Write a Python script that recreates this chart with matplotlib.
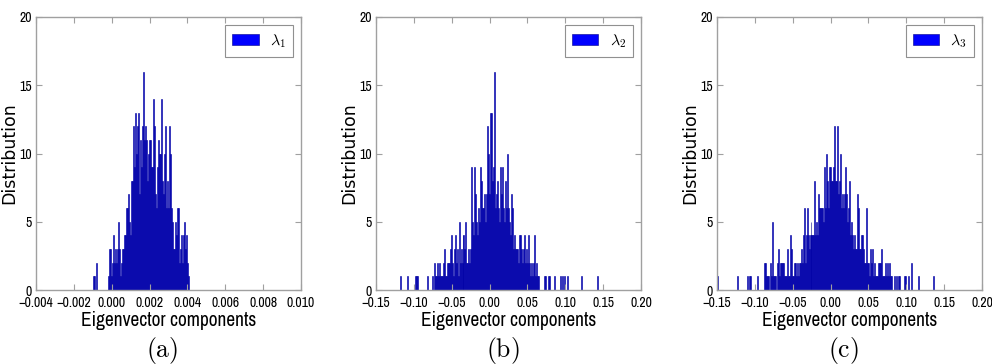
import matplotlib
matplotlib.use('Agg')
import matplotlib.pyplot as plt
import matplotlib.font_manager as fm
import numpy as np

plt.rcParams['mathtext.fontset'] = 'cm'
plt.rcParams['font.family'] = ['DejaVu Sans']
plt.rcParams['axes.unicode_minus'] = True

# ---------------- data ----------------
a_counts = [1, 1, 0, 2, 0, 0, 0, 0, 0, 0, 0, 0, 0, 0, 0, 0,
            1, 3, 3, 1, 2, 4, 2, 3, 2, 3, 5, 3, 1, 2, 3, 3, 4, 4, 6, 6,
            7, 5, 4, 8, 8, 12, 9, 13, 10, 12, 13, 7, 11, 9, 12, 16, 11, 12, 11, 8,
            10, 11, 11, 9, 9, 14, 12, 7, 6, 9, 11, 10, 10, 14, 8, 7, 10, 12, 6, 8,
            6, 12, 10, 6, 5, 3, 3, 5, 4, 6, 6, 2, 3, 4, 2, 4, 5, 3, 4, 2, 1]
a_range = (-0.001014, 0.004098)

b_counts = [1, 0, 0, 0, 0, 0, 0, 1, 0, 0, 0, 0, 0, 0, 0, 1, 1, 1, 0, 0,
            0, 0, 0, 0, 0, 0, 0, 1, 0, 0, 0, 0, 1, 0, 2, 1, 1, 2, 1, 2,
            1, 1, 1, 2, 3, 1, 1, 2, 2, 2, 3, 4, 2, 1, 3, 4, 2, 3, 1, 5,
            2, 3, 2, 4, 4, 3, 5, 2, 2, 3, 2, 3, 9, 5, 4, 9, 7, 5, 4, 6,
            5, 9, 8, 6, 6, 7, 5, 7, 12, 10, 7, 13, 13, 8, 9, 16, 6, 7, 8, 6,
            5, 9, 7, 9, 6, 5, 8, 6, 10, 6, 5, 4, 7, 6, 3, 4, 3, 3, 3, 2,
            4, 4, 3, 2, 3, 4, 2, 3, 2, 4, 2, 1, 2, 1, 2, 4, 1, 2, 1, 1,
            0, 0, 0, 0, 0, 0, 1, 1, 0, 0, 1, 1, 0, 0, 0, 0, 1, 0, 0, 0,
            0, 0, 1, 0, 1, 0, 1, 0, 0, 1, 0, 0, 0, 0, 0, 0, 0, 0, 0, 0,
            0, 0, 0, 1, 0, 0, 0, 0, 0, 0, 0, 0, 0, 0, 0, 0, 0, 0, 0, 1]
b_range = (-0.1179, 0.1429)

c_counts = [1, 0, 0, 0, 0, 0, 0, 0, 0, 0, 0, 0, 0, 0, 0, 0, 0, 0, 0, 0,
            1, 0, 0, 0, 0, 0, 0, 0, 0, 0, 1, 0, 1, 1, 0, 0, 0, 0, 0, 0,
            1, 0, 0, 0, 0, 0, 0, 2, 2, 1, 1, 1, 0, 2, 1, 5, 1, 1, 1, 0,
            2, 3, 1, 2, 2, 2, 2, 1, 1, 1, 3, 1, 1, 4, 3, 1, 1, 2, 2, 1,
            2, 1, 2, 2, 3, 2, 4, 6, 2, 4, 6, 4, 3, 4, 5, 4, 4, 4, 8, 4,
            5, 4, 7, 6, 6, 6, 6, 5, 9, 6, 10, 8, 6, 9, 9, 8, 8, 9, 12, 8,
            8, 12, 7, 8, 10, 6, 7, 6, 7, 9, 7, 5, 6, 8, 4, 5, 4, 3, 4, 3,
            3, 7, 6, 3, 3, 4, 4, 3, 2, 2, 6, 2, 2, 1, 3, 2, 3, 1, 2, 1,
            1, 1, 2, 2, 2, 3, 1, 1, 1, 2, 1, 2, 1, 2, 1, 1, 0, 0, 1, 0,
            1, 0, 1, 1, 0, 0, 0, 0, 1, 1, 0, 0, 1, 0, 0, 2, 0, 0, 0, 0,
            0, 0, 1, 0, 0, 0, 0, 0, 0, 0, 0, 0, 0, 0, 0, 0, 0, 1]
c_range = (-0.1497, 0.1360)

a_xticks = [-0.004, -0.002, 0.000, 0.002, 0.004, 0.006, 0.008, 0.010]
a_xlabels = ['\u22120.004', '\u22120.002', '0.000', '0.002', '0.004', '0.006', '0.008', '0.010']
bc_xticks = [-0.15, -0.10, -0.05, 0.00, 0.05, 0.10, 0.15, 0.20]
bc_xlabels = ['\u22120.15', '\u22120.10', '\u22120.05', '0.00', '0.05', '0.10', '0.15', '0.20']
yticks = [0, 5, 10, 15, 20]
legend_labels = [r'$\lambda_1$', r'$\lambda_2$', r'$\lambda_3$']
panel_labels = [r'$\mathrm{(a)}$', r'$\mathrm{(b)}$', r'$\mathrm{(c)}$']
xlabel_text = 'Eigenvector components'
ylabel_text = 'Distribution'

panels = [
    (a_counts, a_range, a_xticks, a_xlabels, (-0.004, 0.010)),
    (b_counts, b_range, bc_xticks, bc_xlabels, (-0.15, 0.20)),
    (c_counts, c_range, bc_xticks, bc_xlabels, (-0.15, 0.20)),
]

# ---------------- narrow font (if installed) ----------------
def pick_narrow():
    good = []
    for f in fm.fontManager.ttflist:
        nm = (f.name + ' ' + str(f.stretch)).lower()
        if ('narrow' in nm or 'condensed' in nm) and 'mono' not in nm and 'serif' not in f.name.lower():
            if f.style == 'normal' and f.weight in (400, 'normal', 'regular'):
                good.append(f)
    if not good:
        return None
    good.sort(key=lambda f: (0 if 'semi' in str(f.stretch).lower() else 1, f.name))
    return good[0].fname

narrow_path = pick_narrow()

def make_fp(size):
    if narrow_path:
        return fm.FontProperties(fname=narrow_path, size=size)
    return fm.FontProperties(family='DejaVu Sans', size=size)

# ---------------- figure ----------------
W, H = 992, 364
fig = plt.figure(figsize=(W / 100, H / 100), dpi=100)
renderer = fig.canvas.get_renderer()

def fit_size(text, target_px, base=10.0):
    t = fig.text(0, 0, text, fontproperties=make_fp(base))
    w = t.get_window_extent(renderer).width
    t.remove()
    return base * target_px / w

xl_size = fit_size(xlabel_text, 176)
tk_size = fit_size('0.002', 28)

ax_left_px = [36, 376, 717]
ax_w_px = 265
ax_top_px, ax_bot_px = 17, 290

for k, (counts, rng, xt, xl, xlim) in enumerate(panels):
    l = ax_left_px[k]
    ax = fig.add_axes([l / W, (H - ax_bot_px) / H, ax_w_px / W, (ax_bot_px - ax_top_px) / H])
    edges = np.linspace(rng[0], rng[1], len(counts) + 1)
    centers = 0.5 * (edges[:-1] + edges[1:])
    ax.hist(centers, bins=edges, weights=counts, facecolor='#0000ff',
            edgecolor='#000088', linewidth=0.4, label=legend_labels[k])
    ax.set_xlim(*xlim)
    ax.set_ylim(0, 20)
    ax.set_xticks(xt)
    ax.set_xticklabels(xl, fontproperties=make_fp(tk_size))
    ax.set_yticks(yticks)
    ax.set_yticklabels([str(v) for v in yticks], fontproperties=make_fp(tk_size))
    for s in ax.spines.values():
        s.set_color('#a0a0a0')
        s.set_linewidth(1.0)
    ax.tick_params(direction='in', top=True, right=True, color='#a0a0a0',
                   length=4, width=0.8)
    ax.tick_params(axis='x', pad=4)
    ax.tick_params(axis='y', pad=3)
    ax.set_xlabel(xlabel_text, fontproperties=make_fp(xl_size), labelpad=1)
    ax.set_ylabel(ylabel_text, fontsize=12.5, family='DejaVu Sans', labelpad=0.5)
    leg = ax.legend(loc='upper right', fontsize=11.5, fancybox=False,
                    edgecolor='#909090', framealpha=1, handlelength=1.65,
                    handleheight=0.75, handletextpad=0.7, borderpad=0.45,
                    borderaxespad=0.5)
    leg.get_frame().set_linewidth(0.8)
    cx = (l + ax_w_px / 2 - 6) / W
    fig.text(cx, (H - 350) / H, panel_labels[k], ha='center', va='center',
             fontsize=18.5)

fig.savefig('out.png', dpi=100)
